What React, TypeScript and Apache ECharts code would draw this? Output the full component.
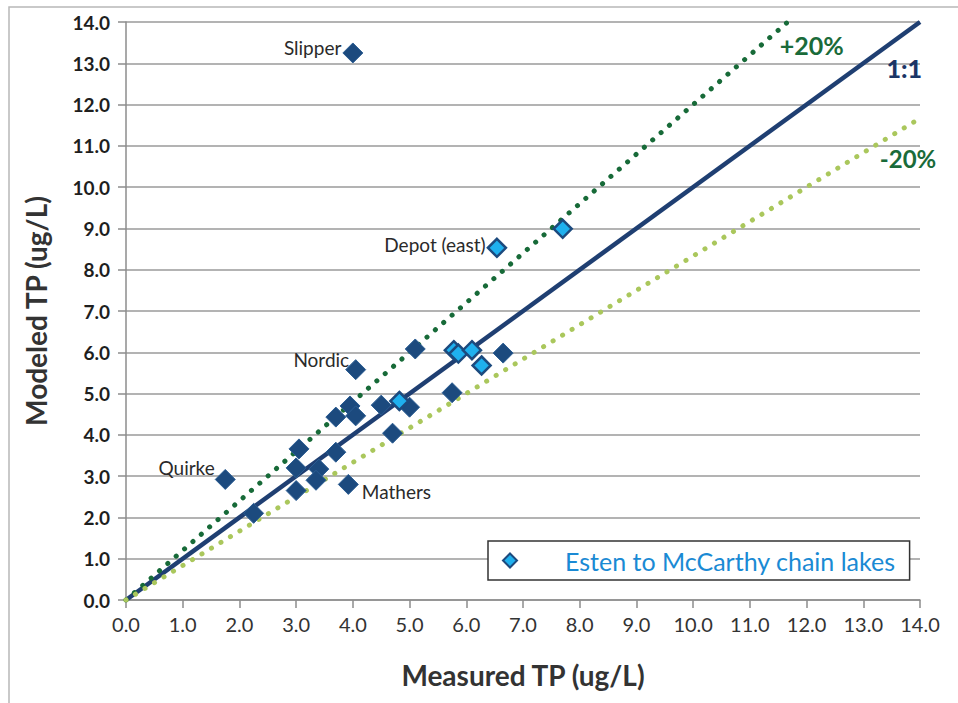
import React, { useEffect, useRef } from "react";
import * as echarts from "echarts";

const darkX = [4.0, 1.75, 4.05, 3.92, 5.1, 6.65, 5.75, 4.5, 5.0, 4.7, 3.7, 3.95, 4.05, 3.05, 3.0, 3.4, 3.7, 3.35, 3.0, 2.25];
const darkY = [13.25, 2.92, 5.58, 2.8, 6.08, 5.98, 5.02, 4.72, 4.67, 4.04, 4.43, 4.7, 4.46, 3.66, 3.2, 3.17, 3.58, 2.9, 2.65, 2.1];
const darkNames = ["Slipper", "Quirke", "Nordic", "Mathers", "", "", "", "", "", "", "", "", "", "", "", "", "", "", "", ""];

const lightX = [6.54, 7.7, 5.78, 5.86, 6.1, 6.27, 4.82];
const lightY = [8.53, 8.99, 6.05, 5.97, 6.05, 5.68, 4.82];
const lightNames = ["Depot (east)", "", "", "", "", "", ""];

const oneToOne = [[0, 0], [14, 14]];
const plus20 = [[0, 0], [14 / 1.2, 14]];
const minus20 = [[0, 0], [14, 14 / 1.2]];

const axisTicks = [0, 14, 1];
const legendName = "Esten to McCarthy chain lakes";

const FONT = "Lato, 'Open Sans', sans-serif";

const labelCfg: Record<string, any> = {
  Slipper: { position: "left", distance: 1, offset: [0, -5] },
  Quirke: { position: "left", distance: 0, offset: [0, -12] },
  Nordic: { position: "left", distance: 0, offset: [4, -10] },
  Mathers: { position: "right", distance: 3, offset: [0, 7] },
  "Depot (east)": { position: "left", distance: 1, offset: [0, -3] },
};

function pointData(xs: number[], ys: number[], names: string[]) {
  return xs.map((x, i) => {
    const n = names[i];
    const item: any = { value: [x, ys[i]], name: n };
    if (n) {
      item.label = {
        show: true,
        formatter: n,
        color: "#2a2a2a",
        fontSize: 19,
        fontFamily: FONT,
        ...labelCfg[n],
      };
    }
    return item;
  });
}

function lineData(pts: number[][], label: any) {
  return pts.map((p, i) =>
    i === pts.length - 1
      ? { value: p, symbolSize: 0.01, label: { show: true, ...label } }
      : { value: p, symbolSize: 0.01 }
  );
}

export default function App() {
  const ref = useRef<HTMLDivElement>(null);
  useEffect(() => {
    document.body.style.margin = "0";
    if (!ref.current) return;
    const chart = echarts.init(ref.current, null, { renderer: "svg" });
    const [mn, mx, iv] = axisTicks;
    const axisCommon = {
      type: "value",
      min: mn,
      max: mx,
      interval: iv,
      axisLine: { show: true, lineStyle: { color: "#8c8c8c", width: 1.5 } },
      axisTick: { show: true, inside: false, length: 8, lineStyle: { color: "#8c8c8c", width: 1.5 } },
      axisLabel: {
        formatter: (v: number) => v.toFixed(1),
        fontSize: 20,
        fontFamily: FONT,
        color: "#222222",
      },
      nameLocation: "middle",
      nameTextStyle: { fontSize: 28, fontWeight: "bold", fontFamily: FONT, color: "#333333" },
    };
    chart.setOption({
      animation: false,
      backgroundColor: "#ffffff",
      graphic: [
        {
          type: "rect",
          shape: { x: 9, y: 7, width: 960, height: 720 },
          style: { fill: "none", stroke: "#b8b8b8", lineWidth: 1.5 },
          silent: true,
        },
      ],
      grid: { left: 126, right: 38, top: 22, bottom: 103 },
      legend: {
        data: [{ name: legendName, icon: "diamond" }],
        left: 488,
        top: 541,
        itemWidth: 14,
        itemHeight: 14,
        padding: [7, 14, 7, 14],
        borderColor: "#333333",
        borderWidth: 1.5,
        backgroundColor: "#ffffff",
        textStyle: { fontSize: 25, fontFamily: FONT, color: "#1a8ad4", padding: [0, 0, 0, 43] },
      },
      xAxis: {
        ...axisCommon,
        splitLine: { show: false },
        name: "Measured TP (ug/L)",
        nameGap: 61,
        axisLabel: { ...axisCommon.axisLabel, margin: 14, color: "#333333" },
      },
      yAxis: {
        ...axisCommon,
        splitLine: { show: true, lineStyle: { color: "#9a9a9a", width: 1.5 } },
        name: "Modeled TP (ug/L)",
        nameGap: 76,
        axisLabel: { ...axisCommon.axisLabel, fontSize: 19, fontWeight: "bold", color: "#1e1e1e", margin: 16 },
      },
      series: [
        {
          type: "line",
          name: "1:1",
          data: lineData(oneToOne, {
            formatter: "1:1",
            position: "left",
            distance: 0,
            offset: [2, 46],
            color: "#1a3566",
            fontSize: 25,
            fontWeight: 900,
            fontFamily: FONT,
          }),
          showSymbol: true,
          symbol: "circle",
          itemStyle: { color: "#1f3f72" },
          lineStyle: { color: "#1f3f72", width: 4.5 },
          z: 2,
        },
        {
          type: "line",
          name: "+20%",
          data: lineData(plus20, {
            formatter: "+20%",
            position: "right",
            distance: 0,
            offset: [-8, 23],
            color: "#1a6b3a",
            fontSize: 25,
            fontWeight: "bold",
            fontFamily: FONT,
          }),
          showSymbol: true,
          symbol: "circle",
          itemStyle: { color: "#176a38" },
          lineStyle: { color: "#176a38", width: 5, type: [0.1, 11], cap: "round" },
          z: 2,
        },
        {
          type: "line",
          name: "-20%",
          data: lineData(minus20, {
            formatter: "-20%",
            position: "bottom",
            distance: 0,
            offset: [-12, 28],
            color: "#1a6b3a",
            fontSize: 24,
            fontWeight: "bold",
            fontFamily: FONT,
          }),
          showSymbol: true,
          symbol: "circle",
          itemStyle: { color: "#aac75c" },
          lineStyle: { color: "#aac75c", width: 5, type: [0.1, 11], cap: "round" },
          z: 2,
        },
        {
          type: "scatter",
          name: "Lakes",
          data: pointData(darkX, darkY, darkNames),
          symbol: "diamond",
          symbolSize: 20,
          itemStyle: { color: "#1c4a7e", borderColor: "#2b5d93", borderWidth: 1, opacity: 1 },
          z: 3,
        },
        {
          type: "scatter",
          name: legendName,
          data: pointData(lightX, lightY, lightNames),
          symbol: "diamond",
          symbolSize: 18,
          itemStyle: { color: "#1fb0ee", borderColor: "#1c4a7e", borderWidth: 2.5, opacity: 1 },
          z: 4,
        },
      ],
    });
    return () => chart.dispose();
  }, []);
  return <div ref={ref} style={{ width: 958, height: 703 }} />;
}
